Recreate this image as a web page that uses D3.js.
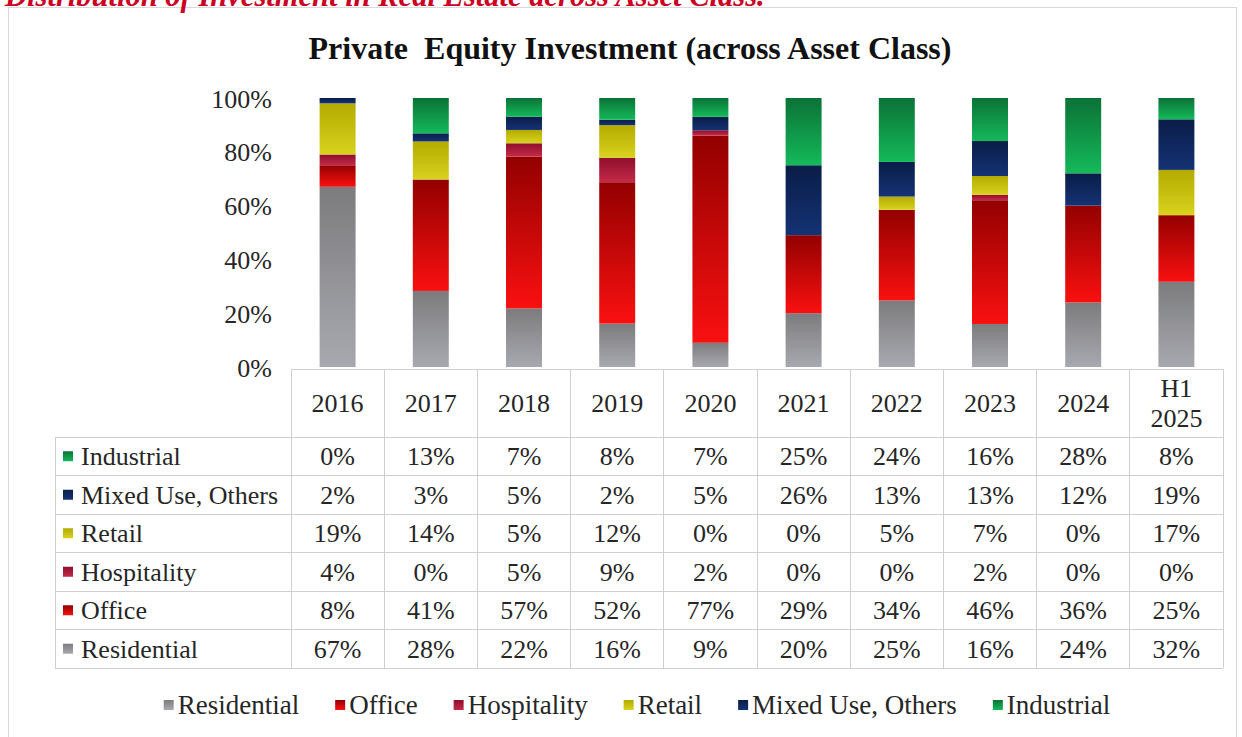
<!DOCTYPE html>
<html>
<head>
<meta charset="utf-8">
<script src="https://cdn.jsdelivr.net/npm/d3@7"></script>
<style>
  html, body { margin: 0; padding: 0; background: #fff; }
  svg { display: block; }
  text { font-family: "Liberation Serif", "DejaVu Serif", serif; }
</style>
</head>
<body>
<svg id="chart" width="1242" height="737"></svg>
<script>
// ---- data -------------------------------------------------------------
const categories = ["2016", "2017", "2018", "2019", "2020", "2021", "2022", "2023", "2024", "H1 2025"];
const seriesNames = ["Residential", "Office", "Hospitality", "Retail", "Mixed Use, Others", "Industrial"];
const residential = [67, 28, 22, 16, 9, 20, 25, 16, 24, 32];
const office      = [8, 41, 57, 52, 77, 29, 34, 46, 36, 25];
const hospitality = [4, 0, 5, 9, 2, 0, 0, 2, 0, 0];
const retail      = [19, 14, 5, 12, 0, 0, 5, 7, 0, 17];
const mixedUse    = [2, 3, 5, 2, 5, 26, 13, 13, 12, 19];
const industrial  = [0, 13, 7, 8, 7, 25, 24, 16, 28, 8];
const yTicks = [0, 0.2, 0.4, 0.6, 0.8, 1.0];
const tableRowOrder = ["Industrial", "Mixed Use, Others", "Retail", "Hospitality", "Office", "Residential"];

const valuesBySeries = {
  "Residential": residential,
  "Office": office,
  "Hospitality": hospitality,
  "Retail": retail,
  "Mixed Use, Others": mixedUse,
  "Industrial": industrial
};

// gradient stops per series (top colour, bottom colour)
const gradStops = {
  "Residential": ["#7c7c7e", "#a8a9b0"],
  "Office": ["#930000", "#fa1010"],
  "Hospitality": ["#8e0f2c", "#c42a48"],
  "Retail": ["#b3ab00", "#d9d21e"],
  "Mixed Use, Others": ["#0a1d48", "#143274"],
  "Industrial": ["#0b7236", "#14b95a"]
};
const keyOf = name => "g" + seriesNames.indexOf(name);

// ---- layout -----------------------------------------------------------
const svg = d3.select("#chart");
const W = 1242, H = 737;
const plotTop = 98, plotBottom = 367;
const tableLeft = 291, tableRight = 1223, labelLeft = 55;
const headerTop = 369, headerBottom = 437, rowH = 38.5;
const textColor = "#262626";
const gridColor = "#cfcfcf";

const defs = svg.append("defs");
seriesNames.forEach(name => {
  const g = defs.append("linearGradient")
    .attr("id", keyOf(name))
    .attr("x1", 0).attr("y1", 0).attr("x2", 0).attr("y2", 1);
  g.append("stop").attr("offset", "0%").attr("stop-color", gradStops[name][0]);
  g.append("stop").attr("offset", "100%").attr("stop-color", gradStops[name][1]);
});

// outer chart frame
svg.append("rect")
  .attr("x", 8.5).attr("y", 7.5)
  .attr("width", 1228).attr("height", H + 20)
  .attr("fill", "#fff")
  .attr("stroke", "#d9d9d9");

// heading above the chart (runs off the top edge of the page)
const heading = svg.append("text")
  .attr("x", 5).attr("y", 6)
  .attr("fill", "#cc0022")
  .attr("font-style", "italic")
  .attr("font-weight", "bold")
  .attr("font-size", 20)
  .text("Distribution of Investment in Real Estate across Asset Class.");
{
  const len = heading.node().getComputedTextLength();
  heading.attr("font-size", 20 * 760 / len);
}

// chart title
svg.append("text")
  .attr("x", 630).attr("y", 59)
  .attr("text-anchor", "middle")
  .attr("font-weight", "bold")
  .attr("font-size", 32)
  .attr("fill", "#111")
  .style("white-space", "pre")
  .text("Private  Equity Investment (across Asset Class)");

// ---- scales -----------------------------------------------------------
const p = 0.614;
const xBar = d3.scaleBand().domain(categories).range([tableLeft, tableRight])
  .paddingInner(p).paddingOuter(p / 2);
const xCol = d3.scaleBand().domain(categories).range([tableLeft, tableRight]).padding(0);
const y = d3.scaleLinear().domain([0, 1]).range([plotBottom, plotTop]);

// y axis labels only
const yAxis = d3.axisLeft(y).tickValues(yTicks).tickFormat(d3.format(".0%")).tickSize(0).tickPadding(0);
const yg = svg.append("g").attr("transform", "translate(272,0)").call(yAxis);
yg.select(".domain").remove();
yg.selectAll("text")
  .attr("font-family", "Liberation Serif")
  .attr("font-size", 26)
  .attr("fill", textColor)
  .attr("dy", "0.35em");

// ---- stacked bars (100% stacked) ---------------------------------------
const rows = categories.map((c, i) => {
  const r = { category: c };
  const total = d3.sum(seriesNames, s => valuesBySeries[s][i]);
  seriesNames.forEach(s => { r[s] = valuesBySeries[s][i] / total; });
  return r;
});
const stacked = d3.stack().keys(seriesNames)(rows);

svg.append("g").selectAll("g")
  .data(stacked)
  .join("g")
  .attr("fill", d => `url(#${keyOf(d.key)})`)
  .selectAll("rect")
  .data(d => d.filter(v => v[1] - v[0] > 0))
  .join("rect")
  .attr("x", d => xBar(d.data.category))
  .attr("width", xBar.bandwidth())
  .attr("y", d => y(d[1]))
  .attr("height", d => y(d[0]) - y(d[1]));

// ---- data table -------------------------------------------------------
const tableBottom = headerBottom + rowH * tableRowOrder.length;
const grid = svg.append("g").attr("stroke", gridColor).attr("stroke-width", 1).attr("shape-rendering", "crispEdges");
// header top line
grid.append("line").attr("x1", tableLeft).attr("x2", tableRight).attr("y1", headerTop).attr("y2", headerTop);
// horizontal lines for data rows
d3.range(tableRowOrder.length + 1).forEach(k => {
  const yy = headerBottom + k * rowH;
  grid.append("line").attr("x1", labelLeft).attr("x2", tableRight).attr("y1", yy).attr("y2", yy);
});
// verticals
grid.append("line").attr("x1", labelLeft).attr("x2", labelLeft).attr("y1", headerBottom).attr("y2", tableBottom);
categories.forEach(c => {
  const xx = xCol(c);
  grid.append("line").attr("x1", xx).attr("x2", xx).attr("y1", headerTop).attr("y2", tableBottom);
});
grid.append("line").attr("x1", tableRight).attr("x2", tableRight).attr("y1", headerTop).attr("y2", tableBottom);

// header labels
const header = svg.append("g").attr("font-size", 26).attr("fill", textColor).attr("text-anchor", "middle");
categories.forEach(c => {
  const cx = xCol(c) + xCol.bandwidth() / 2;
  const parts = c.split(" ");
  const midY = (headerTop + headerBottom) / 2;
  if (parts.length === 1) {
    header.append("text").attr("x", cx).attr("y", midY).attr("dy", "0.35em").text(c);
  } else {
    header.append("text").attr("x", cx).attr("y", midY - 15).attr("dy", "0.35em").text(parts[0]);
    header.append("text").attr("x", cx).attr("y", midY + 15).attr("dy", "0.35em").text(parts[1]);
  }
});

// body rows
const body = svg.append("g").attr("font-size", 26).attr("fill", textColor);
tableRowOrder.forEach((name, k) => {
  const cy = headerBottom + k * rowH + rowH / 2;
  body.append("rect")
    .attr("x", 63).attr("y", cy - 5).attr("width", 10).attr("height", 10)
    .attr("fill", `url(#${keyOf(name)})`);
  body.append("text").attr("x", 81).attr("y", cy).attr("dy", "0.35em").text(name);
  valuesBySeries[name].forEach((v, i) => {
    body.append("text")
      .attr("x", xCol(categories[i]) + xCol.bandwidth() / 2)
      .attr("y", cy).attr("dy", "0.35em")
      .attr("text-anchor", "middle")
      .text(v + "%");
  });
});

// ---- legend -----------------------------------------------------------
const legend = svg.append("g").attr("font-size", 27).attr("fill", textColor);
const legendY = 705;
const items = seriesNames.map(name => {
  const g = legend.append("g");
  g.append("rect").attr("x", 0).attr("y", legendY - 5).attr("width", 10).attr("height", 10)
    .attr("fill", `url(#${keyOf(name)})`);
  const t = g.append("text").attr("x", 14).attr("y", legendY).attr("dy", "0.35em").text(name);
  return { g, w: 14 + t.node().getComputedTextLength() };
});
const gap = 36;
const totalW = d3.sum(items, d => d.w) + gap * (items.length - 1);
let lx = 637 - totalW / 2;
items.forEach(it => {
  it.g.attr("transform", `translate(${lx},0)`);
  lx += it.w + gap;
});
</script>
</body>
</html>
